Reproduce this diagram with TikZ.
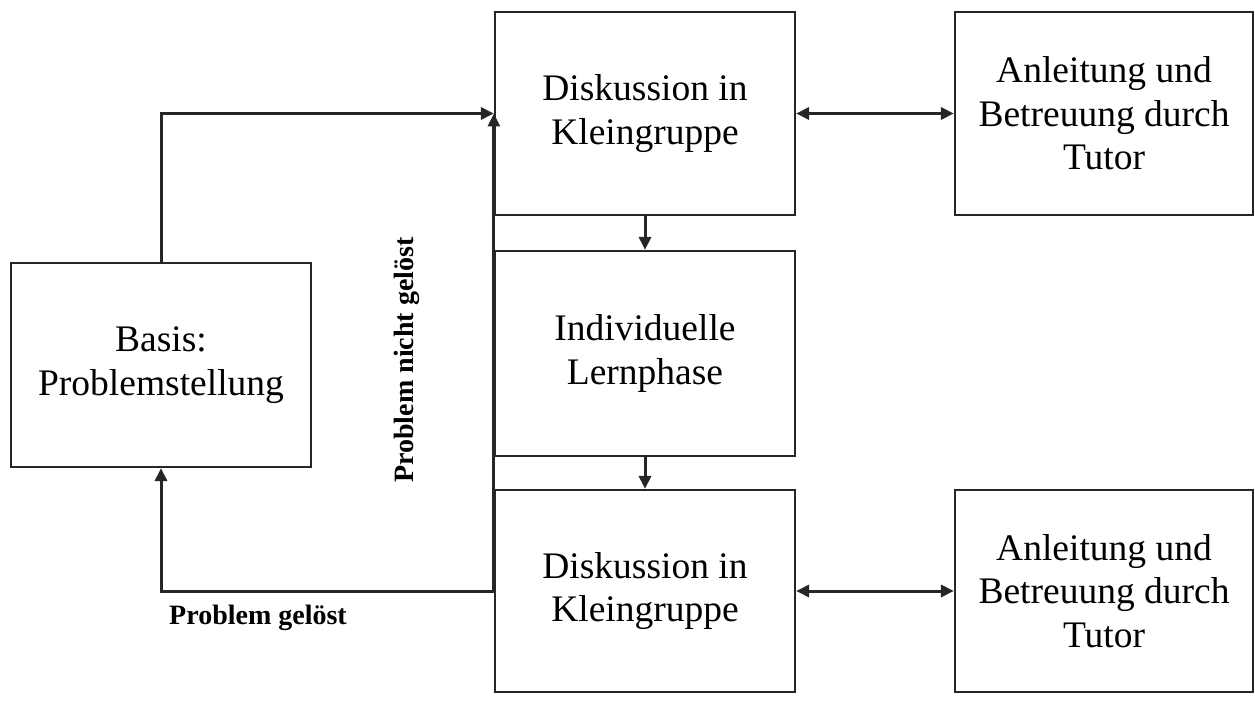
\documentclass[tikz,border=0pt]{standalone}
\usepackage{fontspec}
\setmainfont{Liberation Serif}
\usetikzlibrary{arrows.meta}
\begin{document}
\begin{tikzpicture}[x=1pt,y=-1pt,
  box/.style={draw=black!85, line width=2.2pt, minimum width=300pt, minimum height=204pt,
    inner sep=0pt, align=center, font=\fontsize{37.5}{43.5}\selectfont},
  arr/.style={draw=black!85, line width=3pt, -{Triangle[length=13pt,width=12pt]}},
  darr/.style={draw=black!85, line width=3pt, {Triangle[length=13pt,width=12pt]}-{Triangle[length=13pt,width=12pt]}},
  lbl/.style={font=\fontsize{28}{32}\selectfont\bfseries, inner sep=1pt}]
\useasboundingbox (0,0) rectangle (1255,708);
\node[box, minimum height=203pt] (A) at (645,113.5) {Diskussion in\\Kleingruppe};
\node[box, minimum height=205pt] (B) at (645,353.5) {Individuelle\\Lernphase};
\node[box, minimum height=202pt] (C) at (645,591) {Diskussion in\\Kleingruppe};
\node[box, minimum width=298pt, minimum height=203pt] (D) at (1104,113.5) {Anleitung und\\Betreuung durch\\Tutor};
\node[box, minimum width=298pt, minimum height=202pt] (E) at (1104,591) {Anleitung und\\Betreuung durch\\Tutor};
\node[box] (P) at (161,365) {Basis:\\Problemstellung};
\draw[arr] (A.south) -- (B.north);
\draw[arr] (B.south) -- (C.north);
\draw[darr] (A.east) -- (D.west);
\draw[darr] (C.east) -- (E.west);
\draw[arr] (C.west) -| (P.south);
\draw[arr] (P.north) |- (A.west);
\draw[arr] (C.west) -- (A.west);
\node[lbl, rotate=90] (nl) at (407,360) {Problem nicht gelöst};
\node[lbl] (gl) at (258,618) {Problem gelöst};
\end{tikzpicture}
\end{document}
